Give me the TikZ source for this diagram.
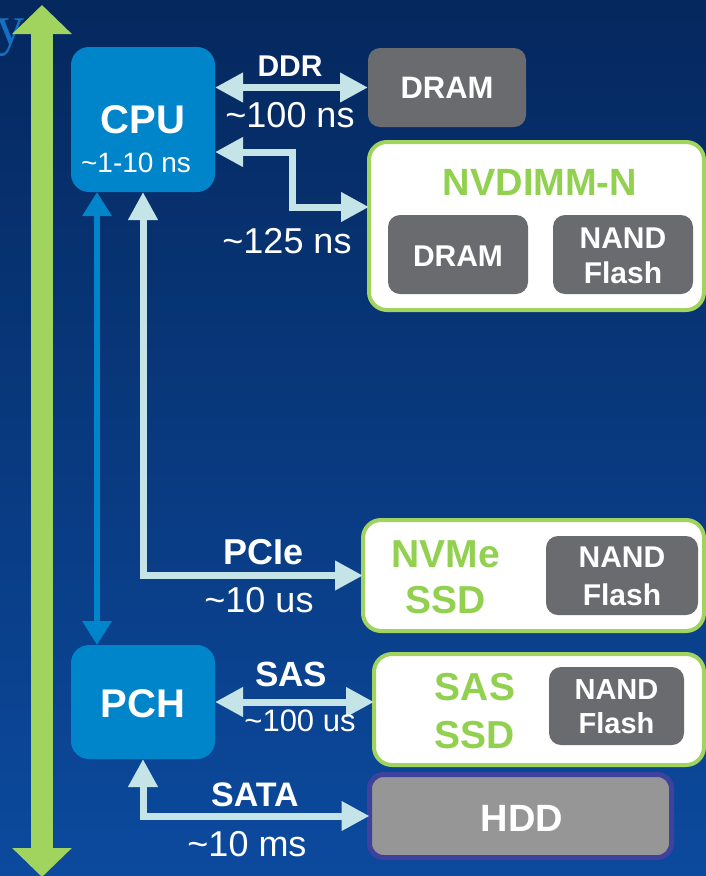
\documentclass[tikz,border=0pt]{standalone}
\usepackage{fontspec}
\setmainfont{Liberation Sans}
\newfontfamily\ylabfont{Liberation Serif}
\usetikzlibrary{arrows.meta,calc}
\definecolor{bgtop}{RGB}{5,40,94}
\definecolor{bgbot}{RGB}{12,74,158}
\definecolor{cpublue}{RGB}{0,133,202}
\definecolor{ylabblue}{RGB}{20,112,192}
\definecolor{lightc}{RGB}{197,228,232}
\definecolor{grn}{RGB}{160,212,94}
\definecolor{grntext}{RGB}{146,208,80}
\definecolor{chip}{RGB}{106,107,110}
\definecolor{hddgray}{RGB}{150,150,150}
\definecolor{hddborder}{RGB}{62,66,156}
\newcommand{\fs}[1]{\fontsize{#1}{#1}\selectfont}
\begin{document}
\begin{tikzpicture}[x=1pt,y=-1pt,
  every node/.style={inner sep=0pt, outer sep=0pt},
  procbox/.style={fill=cpublue, rounded corners=18pt},
  chipbox/.style={fill=chip, rounded corners=12pt},
  modbox/.style={fill=white, draw=grn, line width=4pt, rounded corners=18pt},
  hddbox/.style={fill=hddgray, draw=hddborder, line width=5pt, rounded corners=14pt},
  wlab/.style={text=white, font=\bfseries\fs{#1}, align=center},
  wlab/.default=30,
  rlab/.style={text=white, font=\fs{#1}},
  rlab/.default=36,
  glab/.style={text=grntext, font=\bfseries\fs{#1}, align=center},
  glab/.default=38,
  lnk/.style={draw=lightc, line width=7pt,
    {Triangle[length=28pt,width=28pt]}-{Triangle[length=28pt,width=28pt]}},
  blnk/.style={draw=cpublue, line width=6pt,
    {Triangle[length=24pt,width=28pt]}-{Triangle[length=24pt,width=28pt]}},
  bigarrow/.style={draw=grn, line width=22pt,
    {Triangle[length=29pt,width=58pt]}-{Triangle[length=29pt,width=58pt]}}
]
\useasboundingbox (0,0) rectangle (706,876);
\shade[top color=bgtop, bottom color=bgbot] (0,0) rectangle (706,876);

% partial label at the left edge
\node[anchor=base east, text=ylabblue, font=\ylabfont\fs{56}] (ylab) at (25,44) {y};

% green double arrow
\coordinate (gtop) at (42,5);
\coordinate (gbot) at (42,877);
\draw[bigarrow] (gtop) -- (gbot);

% processor boxes
\node[procbox, minimum width=144pt, minimum height=145pt] (cpu) at (143,119.5) {};
\node[wlab=40] (cputxt) at (143,120) {CPU};
\node[rlab=28] (cpulat) at (136,163) {\textasciitilde 1-10 ns};

\node[procbox, minimum width=144pt, minimum height=114pt] (pch) at (143,702) {};
\node[wlab=40] (pchtxt) at (143,704) {PCH};

% DRAM
\node[chipbox, minimum width=158pt, minimum height=79pt] (dram) at (447,87.5) {};
\node[wlab=31] (dramtxt) at (447,88) {DRAM};

% NVDIMM-N
\node[modbox, minimum width=335pt, minimum height=168pt] (nvd) at (536.5,226) {};
\node[glab=38] (nvdtxt) at (540,182) {NVDIMM-N};
\node[chipbox, minimum width=140pt, minimum height=79pt] (nvddram) at (458,254.5) {};
\node[wlab=30] (nvddramtxt) at (458,256) {DRAM};
\node[chipbox, minimum width=140pt, minimum height=79pt] (nvdnand) at (623,254.5) {};
\node[wlab=30, font=\bfseries\fontsize{30}{35}\selectfont] (nvdnandtxt) at (623,256) {NAND\\Flash};

% NVMe SSD
\node[modbox, minimum width=341pt, minimum height=111pt] (nvme) at (533.5,575.5) {};
\node[glab=39, font=\bfseries\fontsize{39}{46}\selectfont] (nvmetxt) at (446,577) {NVMe\\SSD};
\node[chipbox, minimum width=152pt, minimum height=79pt] (nvmenand) at (622,575.5) {};
\node[wlab=30, font=\bfseries\fontsize{30}{38}\selectfont] (nvmenandtxt) at (622,576) {NAND\\Flash};

% SAS SSD
\node[modbox, minimum width=330pt, minimum height=111pt] (sas) at (539,709.5) {};
\node[glab=39, font=\bfseries\fontsize{39}{48}\selectfont] (sastxt) at (475,711) {SAS\\SSD};
\node[chipbox, minimum width=135pt, minimum height=78pt] (sasnand) at (616.5,706) {};
\node[wlab=29, font=\bfseries\fontsize{29}{34}\selectfont] (sasnandtxt) at (616.5,707) {NAND\\Flash};

% HDD
\node[hddbox, minimum width=302pt, minimum height=83pt] (hdd) at (520.5,816) {};
\node[wlab=38] (hddtxt) at (522,818) {HDD};

% connectors
\draw[lnk] (dram.west -| cpu.east) -- (dram.west);
\draw[lnk, line join=miter] ([yshift=-32.5pt]cpu.east) -- ++(77,0) |- ([yshift=19pt]nvd.west);
\draw[blnk] ([xshift=-46pt]cpu.south) -- ([xshift=-46pt]pch.north);
\draw[lnk, line join=miter] (cpu.south) |- (nvme.west);
\draw[lnk] (pch.east) -- (pch.east -| sas.west);
\draw[lnk, line join=miter] (pch.south) |- (hdd.west);

% connector labels
\node[wlab=30] (ddr) at (290,66) {DDR};
\node[rlab] (ddrlat) at (290,115) {\textasciitilde 100 ns};
\node[rlab] (nvdlat) at (287,241) {\textasciitilde 125 ns};
\node[wlab=36] (pcie) at (264,552) {PCIe};
\node[rlab] (pcielat) at (259,600) {\textasciitilde 10 us};
\node[wlab=35] (saslab) at (291,674) {SAS};
\node[rlab=31] (saslat) at (300,721) {\textasciitilde 100 us};
\node[wlab=34] (sata) at (255,795) {SATA};
\node[rlab] (satalat) at (247,844) {\textasciitilde 10 ms};
\end{tikzpicture}
\end{document}
